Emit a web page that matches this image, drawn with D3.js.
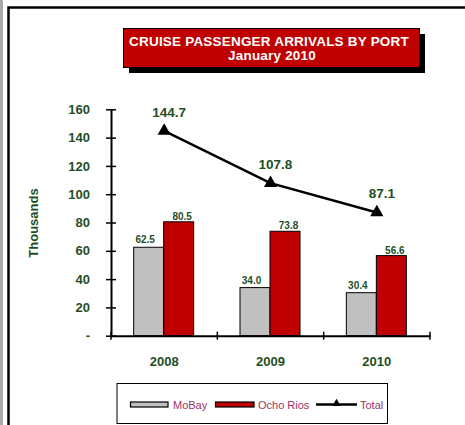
<!DOCTYPE html>
<html><head><meta charset="utf-8">
<script src="https://cdn.jsdelivr.net/npm/d3@7"></script>
<style>body{margin:0;background:#fff}svg{display:block}</style>
</head><body>
<svg id="c" width="465" height="425"></svg>
<script>
const years = ["2008", "2009", "2010"];
const moBay = [62.5, 34.0, 30.4];
const ochoRios = [80.5, 73.8, 56.6];
const total = [144.7, 107.8, 87.1];
const yTicks = [0, 20, 40, 60, 80, 100, 120, 140, 160];
const titleLines = ["CRUISE PASSENGER  ARRIVALS BY PORT", "January  2010"];
const seriesNames = ["MoBay", "Ocho Rios", "Total"];

const svg = d3.select("#c");
const green = "#1f4e1f", red = "#c00000", gray = "#c0c0c0", plum = "#993366";
const font = "Liberation Sans, Arial, sans-serif";

// page frame
svg.append("rect").attr("x",0).attr("y",0).attr("width",3).attr("height",425).attr("fill","#aaa");
svg.append("path").attr("d","M8.5,430 V7.5 H470").attr("fill","none").attr("stroke","#000").attr("stroke-width",2.5);

// title box
svg.append("rect").attr("x",129).attr("y",34).attr("width",296).attr("height",39).attr("fill","#000");
svg.append("rect").attr("x",123.5).attr("y",28.5).attr("width",296).attr("height",39).attr("fill",red).attr("stroke","#000").attr("stroke-width",1);
svg.append("text").attr("x",269).attr("y",46).attr("text-anchor","middle").attr("fill","#fff")
  .attr("font-family",font).attr("font-weight","bold").attr("font-size",13.5).attr("letter-spacing",0.2).text(titleLines[0]);
svg.append("text").attr("x",272).attr("y",60).attr("text-anchor","middle").attr("fill","#fff")
  .attr("font-family",font).attr("font-weight","bold").attr("font-size",13.5).attr("letter-spacing",0.2).text(titleLines[1]);

const x0 = 111, x1 = 430, yTop = 109.3, yBot = 335.7;
const x = d3.scaleBand().domain(years).range([x0, x1]);
const y = d3.scaleLinear().domain([0, 160]).range([yBot, yTop]);
const barW = 30;

// bars
const g = svg.append("g");
years.forEach((yr, i) => {
  const c = x(yr) + x.bandwidth()/2;
  g.append("rect").attr("x", c - barW - 0.5).attr("y", y(moBay[i])).attr("width", barW).attr("height", yBot - y(moBay[i]))
    .attr("fill", gray).attr("stroke","#000").attr("stroke-width",1);
  g.append("rect").attr("x", c - 0.5).attr("y", y(ochoRios[i])).attr("width", barW).attr("height", yBot - y(ochoRios[i]))
    .attr("fill", red).attr("stroke","#000").attr("stroke-width",1);
  g.append("text").attr("x", c - barW/2 - 4).attr("y", y(moBay[i]) - 4).attr("text-anchor","middle")
    .attr("fill", green).attr("font-family",font).attr("font-weight","bold").attr("font-size",10).text(moBay[i].toFixed(1));
  g.append("text").attr("x", c + barW/2 + 3).attr("y", y(ochoRios[i]) - 2).attr("text-anchor","middle")
    .attr("fill", green).attr("font-family",font).attr("font-weight","bold").attr("font-size",10).text(ochoRios[i].toFixed(1));
});

// axes
const yAxis = d3.axisLeft(y).tickValues(yTicks).tickSize(0).tickFormat(d => d === 0 ? "-" : d);
const ya = svg.append("g").attr("transform", `translate(${x0},0)`).call(yAxis);
ya.select(".domain").attr("stroke","#000").attr("stroke-width",2);
ya.selectAll(".tick line").remove();
ya.selectAll(".tick").append("line").attr("x1",-5).attr("x2",5).attr("stroke","#000").attr("stroke-width",1.5);
ya.selectAll(".tick text").attr("x",-21).attr("fill",green).attr("font-family",font).attr("font-weight","bold").attr("font-size",13);

const xa = svg.append("g").attr("transform", `translate(0,${yBot})`)
  .call(d3.axisBottom(x).tickSize(0).tickFormat(""));
xa.select(".domain").attr("stroke","#000").attr("stroke-width",2);
xa.selectAll(".tick").remove();
[x0, ...years.map(d => x(d) + x.bandwidth())].forEach(px => {
  xa.append("line").attr("x1",px).attr("x2",px).attr("y1",-4).attr("y2",4).attr("stroke","#000").attr("stroke-width",1.5);
});
years.forEach(yr => {
  svg.append("text").attr("x", x(yr) + x.bandwidth()/2).attr("y", 366).attr("text-anchor","middle")
    .attr("fill",green).attr("font-family",font).attr("font-weight","bold").attr("font-size",13).text(yr);
});

svg.append("text").attr("transform","translate(38,223) rotate(-90)").attr("text-anchor","middle")
  .attr("fill",green).attr("font-family",font).attr("font-weight","bold").attr("font-size",13).text("Thousands");

// total line
const line = d3.line().x((d,i) => x(years[i]) + x.bandwidth()/2).y(d => y(d));
svg.append("path").datum(total).attr("d", line).attr("fill","none").attr("stroke","#000").attr("stroke-width",2.5);
const tri = d3.symbol().type(d3.symbolTriangle).size(75);
total.forEach((v,i) => {
  const cx = x(years[i]) + x.bandwidth()/2;
  svg.append("path").attr("d", tri()).attr("transform", `translate(${cx},${y(v)})`).attr("fill","#000");
  svg.append("text").attr("x", cx + 5).attr("y", y(v) - 14).attr("text-anchor","middle")
    .attr("fill",green).attr("font-family",font).attr("font-weight","bold").attr("font-size",13.5).text(v.toFixed(1));
});

// legend
svg.append("rect").attr("x",117).attr("y",383.5).attr("width",270.5).attr("height",40).attr("fill","#fff").attr("stroke","#000").attr("stroke-width",1);
const lg = svg.append("g");
const ly = 404.5;
lg.append("rect").attr("x",130.5).attr("y",ly-2.5).attr("width",37.5).attr("height",5).attr("fill",gray).attr("stroke","#000").attr("stroke-width",1.2);
lg.append("text").attr("x",173).attr("y",ly+4).attr("fill",plum).attr("font-family",font).attr("font-size",11).text(seriesNames[0]);
lg.append("rect").attr("x",215.5).attr("y",ly-2.5).attr("width",38.5).attr("height",5).attr("fill",red).attr("stroke","#000").attr("stroke-width",1.2);
lg.append("text").attr("x",258).attr("y",ly+4).attr("fill",plum).attr("font-family",font).attr("font-size",11).text(seriesNames[1]);
lg.append("line").attr("x1",316).attr("x2",357).attr("y1",ly).attr("y2",ly).attr("stroke","#000").attr("stroke-width",2.5);
lg.append("path").attr("d", d3.symbol().type(d3.symbolTriangle).size(30)()).attr("transform",`translate(336.5,${ly-1})`).attr("fill","#000");
lg.append("text").attr("x",360).attr("y",ly+4).attr("fill",plum).attr("font-family",font).attr("font-size",11).text(seriesNames[2]);
</script>
</body></html>
